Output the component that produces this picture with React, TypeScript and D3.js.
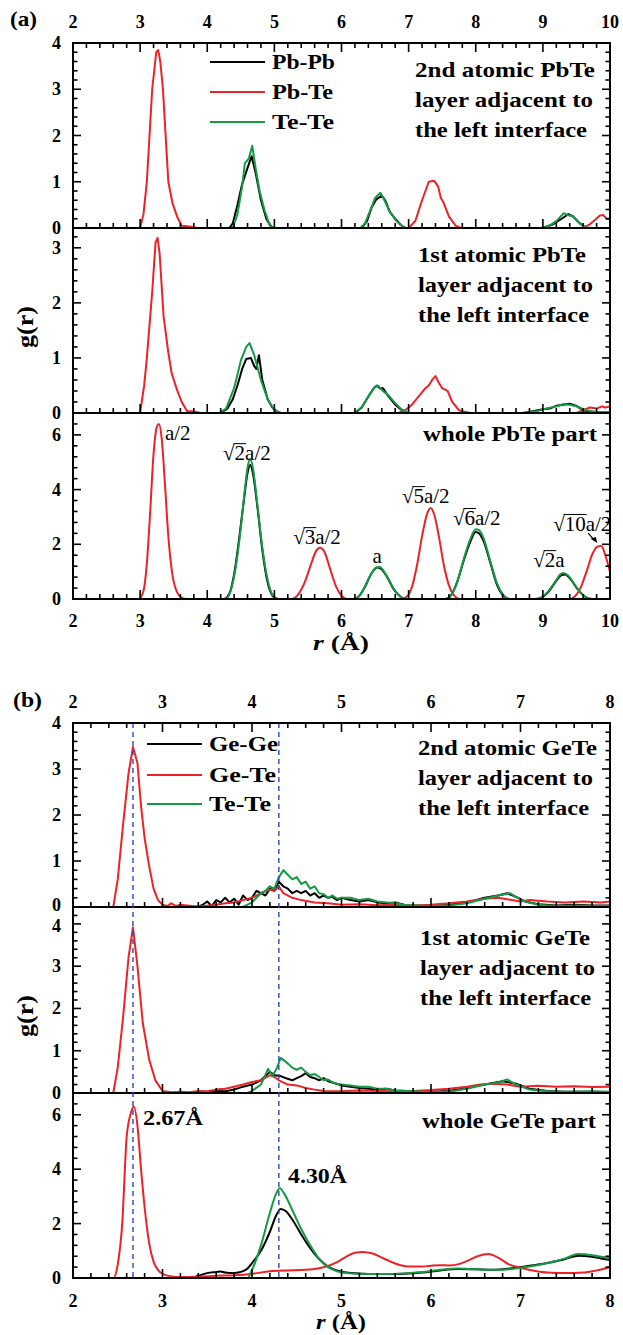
import React from 'react';
import * as d3 from 'd3';

type Pt = [number, number];

// ---------- Panel (a): PbTe, r = 2..10 Å ----------
const rMajorA = [2, 3, 4, 5, 6, 7, 8, 9, 10];

// 2nd atomic PbTe layer adjacent to the left interface
const pbteL2_PbPb: Pt[] = [
  [2, 0], [4.33, 0], [4.38, 0.1], [4.45, 0.5], [4.52, 0.95], [4.6, 1.3], [4.66, 1.55], [4.72, 1.2],
  [4.8, 0.6], [4.88, 0.2], [4.95, 0.03], [5.0, 0], [6.3, 0], [6.38, 0.15], [6.45, 0.45], [6.52, 0.62],
  [6.6, 0.7], [6.65, 0.6], [6.72, 0.35], [6.8, 0.2], [6.88, 0.07], [6.95, 0], [9.0, 0], [9.15, 0.08],
  [9.28, 0.2], [9.38, 0.3], [9.45, 0.25], [9.55, 0.1], [9.65, 0], [10, 0],
];
const pbteL2_PbTe: Pt[] = [
  [2, 0], [3.0, 0], [3.05, 0.3], [3.1, 1.0], [3.18, 3.0], [3.24, 3.8], [3.27, 3.85], [3.3, 3.6],
  [3.34, 3.0], [3.42, 1.0], [3.48, 0.55], [3.55, 0.25], [3.62, 0.05], [3.7, 0.04], [3.78, 0.02],
  [3.85, 0], [7.0, 0], [7.1, 0.15], [7.2, 0.6], [7.3, 1.0], [7.38, 1.02], [7.44, 0.9], [7.48, 0.65],
  [7.52, 0.55], [7.6, 0.25], [7.7, 0.05], [7.78, 0], [9.6, 0], [9.7, 0.08], [9.78, 0.18], [9.85, 0.27],
  [9.9, 0.28], [9.95, 0.2], [10, 0.2],
];
const pbteL2_TeTe: Pt[] = [
  [2, 0], [4.38, 0], [4.45, 0.3], [4.52, 0.9], [4.56, 1.4], [4.62, 1.5], [4.67, 1.78], [4.72, 1.3],
  [4.78, 0.8], [4.85, 0.4], [4.92, 0.1], [4.98, 0], [6.28, 0], [6.35, 0.1], [6.42, 0.35], [6.5, 0.65],
  [6.58, 0.76], [6.64, 0.6], [6.72, 0.35], [6.82, 0.15], [6.92, 0.02], [6.97, 0], [9.0, 0], [9.1, 0.05],
  [9.2, 0.15], [9.31, 0.32], [9.37, 0.28], [9.45, 0.25], [9.55, 0.1], [9.64, 0], [10, 0],
];

// 1st atomic PbTe layer adjacent to the left interface
const pbteL1_PbPb: Pt[] = [
  [2, 0], [4.2, 0], [4.3, 0.08], [4.38, 0.25], [4.45, 0.5], [4.52, 0.8], [4.58, 0.98], [4.65, 1.0],
  [4.7, 0.85], [4.73, 0.8], [4.77, 1.05], [4.82, 0.6], [4.9, 0.25], [4.97, 0.1], [5.05, 0.02], [5.1, 0],
  [6.2, 0], [6.3, 0.1], [6.4, 0.3], [6.48, 0.45], [6.53, 0.5], [6.57, 0.45], [6.62, 0.45], [6.7, 0.3],
  [6.8, 0.15], [6.9, 0.05], [7.0, 0], [8.7, 0], [8.85, 0.03], [9.0, 0.07], [9.1, 0.08], [9.2, 0.13],
  [9.3, 0.15], [9.4, 0.17], [9.5, 0.13], [9.6, 0.05], [9.7, 0.02], [10, 0.02],
];
const pbteL1_PbTe: Pt[] = [
  [2, 0], [3.0, 0], [3.06, 0.5], [3.1, 1.0], [3.18, 2.2], [3.23, 3.1], [3.26, 3.18], [3.29, 2.9],
  [3.35, 1.75], [3.42, 1.1], [3.47, 0.72], [3.55, 0.42], [3.62, 0.2], [3.7, 0.03], [3.8, 0.03],
  [3.9, 0], [6.85, 0], [6.95, 0.05], [7.05, 0.15], [7.15, 0.3], [7.25, 0.45], [7.3, 0.5], [7.35, 0.6],
  [7.4, 0.67], [7.45, 0.55], [7.5, 0.45], [7.58, 0.4], [7.65, 0.2], [7.75, 0.05], [7.85, 0.02],
  [7.92, 0], [9.5, 0], [9.6, 0.05], [9.7, 0.1], [9.8, 0.08], [9.88, 0.12], [9.93, 0.1], [10, 0.12],
];
const pbteL1_TeTe: Pt[] = [
  [2, 0], [4.18, 0], [4.28, 0.08], [4.4, 0.45], [4.5, 0.95], [4.58, 1.2], [4.63, 1.27], [4.7, 1.05],
  [4.8, 0.6], [4.9, 0.25], [5.0, 0.05], [5.08, 0], [6.18, 0], [6.3, 0.1], [6.4, 0.3], [6.5, 0.48],
  [6.55, 0.49], [6.6, 0.42], [6.7, 0.32], [6.8, 0.18], [6.9, 0.06], [7.0, 0], [8.7, 0], [8.9, 0.03],
  [9.05, 0.08], [9.2, 0.12], [9.3, 0.16], [9.4, 0.15], [9.5, 0.12], [9.65, 0.05], [9.8, 0.02], [10, 0.02],
];

// whole PbTe part
const pbteAll_PbPb: Pt[] = [
  [2, 0], [4.25, 0], [4.33, 0.2], [4.4, 0.9], [4.48, 2.3], [4.55, 3.7], [4.6, 4.6], [4.64, 4.9],
  [4.68, 4.6], [4.75, 3.3], [4.82, 1.8], [4.9, 0.6], [4.98, 0.1], [5.05, 0], [6.18, 0], [6.25, 0.08],
  [6.35, 0.45], [6.45, 0.95], [6.53, 1.15], [6.58, 1.12], [6.68, 0.8], [6.78, 0.35], [6.88, 0.08],
  [6.95, 0], [7.55, 0], [7.62, 0.1], [7.72, 0.6], [7.82, 1.4], [7.92, 2.1], [8.0, 2.45], [8.05, 2.4],
  [8.12, 2.1], [8.22, 1.3], [8.32, 0.5], [8.42, 0.1], [8.5, 0], [8.9, 0], [8.98, 0.05], [9.08, 0.25],
  [9.18, 0.6], [9.28, 0.88], [9.33, 0.9], [9.42, 0.7], [9.52, 0.35], [9.62, 0.1], [9.7, 0], [10, 0],
];
const pbteAll_PbTe: Pt[] = [
  [2, 0], [2.98, 0], [3.05, 0.3], [3.1, 1.3], [3.15, 3.2], [3.2, 5.3], [3.25, 6.3], [3.28, 6.4],
  [3.32, 5.9], [3.37, 4.2], [3.42, 2.3], [3.48, 0.9], [3.55, 0.25], [3.62, 0.05], [3.7, 0], [5.25, 0],
  [5.35, 0.15], [5.45, 0.6], [5.55, 1.3], [5.62, 1.75], [5.68, 1.87], [5.75, 1.7], [5.83, 1.1],
  [5.92, 0.45], [6.0, 0.12], [6.08, 0], [6.9, 0], [6.98, 0.1], [7.05, 0.45], [7.13, 1.3], [7.2, 2.3],
  [7.28, 3.15], [7.33, 3.33], [7.38, 3.1], [7.45, 2.3], [7.52, 1.3], [7.6, 0.5], [7.68, 0.12],
  [7.76, 0], [9.4, 0], [9.48, 0.1], [9.56, 0.4], [9.65, 1.0], [9.73, 1.6], [9.8, 1.9], [9.87, 1.95],
  [9.93, 1.6], [10, 1.0],
];
const pbteAll_TeTe: Pt[] = [
  [2, 0], [4.27, 0], [4.35, 0.3], [4.42, 1.1], [4.5, 2.6], [4.56, 4.0], [4.6, 4.8], [4.64, 5.1],
  [4.68, 4.8], [4.74, 3.6], [4.82, 1.9], [4.9, 0.7], [4.98, 0.12], [5.06, 0], [6.18, 0], [6.25, 0.08],
  [6.35, 0.45], [6.45, 0.95], [6.53, 1.15], [6.57, 1.17], [6.66, 0.9], [6.76, 0.45], [6.86, 0.12],
  [6.95, 0], [7.55, 0], [7.62, 0.1], [7.72, 0.6], [7.82, 1.45], [7.92, 2.2], [8.0, 2.55], [8.05, 2.52],
  [8.12, 2.2], [8.22, 1.35], [8.32, 0.55], [8.42, 0.12], [8.5, 0], [8.88, 0], [8.98, 0.07],
  [9.08, 0.28], [9.18, 0.62], [9.26, 0.9], [9.3, 0.95], [9.38, 0.85], [9.48, 0.5], [9.58, 0.18],
  [9.68, 0.03], [9.75, 0], [10, 0],
];

// ---------- Panel (b): GeTe, r = 2..8 Å ----------
const rMajorB = [2, 3, 4, 5, 6, 7, 8];
const bondLengths = [2.67, 4.3];

// 2nd atomic GeTe layer adjacent to the left interface
const geteL2_GeGe: Pt[] = [
  [2, 0], [3.4, 0], [3.45, 0.05], [3.5, 0.12], [3.55, 0.02], [3.6, 0.15], [3.65, 0.1], [3.7, 0.2],
  [3.75, 0.1], [3.8, 0.18], [3.85, 0.05], [3.9, 0.25], [3.95, 0.15], [4.0, 0.2], [4.05, 0.35],
  [4.1, 0.3], [4.15, 0.25], [4.2, 0.4], [4.25, 0.35], [4.3, 0.55], [4.35, 0.45], [4.4, 0.4],
  [4.45, 0.3], [4.5, 0.35], [4.55, 0.3], [4.6, 0.35], [4.65, 0.25], [4.7, 0.3], [4.75, 0.2],
  [4.8, 0.25], [4.85, 0.2], [4.9, 0.22], [4.95, 0.15], [5.0, 0.2], [5.1, 0.15], [5.2, 0.12],
  [5.3, 0.15], [5.4, 0.1], [5.5, 0.08], [5.6, 0.1], [5.7, 0.05], [5.8, 0.03], [6.0, 0.02], [6.2, 0.05],
  [6.4, 0.1], [6.6, 0.2], [6.75, 0.25], [6.85, 0.3], [6.95, 0.22], [7.05, 0.12], [7.2, 0.06],
  [7.4, 0.03], [7.6, 0.05], [7.8, 0.03], [8.0, 0.03],
];
const geteL2_GeTe: Pt[] = [
  [2, 0], [2.45, 0], [2.5, 0.6], [2.56, 1.8], [2.62, 2.9], [2.67, 3.48], [2.72, 3.13], [2.76, 2.2],
  [2.8, 1.5], [2.85, 0.9], [2.9, 0.4], [2.95, 0.15], [3.0, 0.05], [3.05, 0.02], [3.1, 0.08],
  [3.15, 0.02], [3.2, 0.05], [3.3, 0.03], [3.4, 0.01], [3.5, 0.03], [3.6, 0.05], [3.7, 0.08],
  [3.8, 0.1], [3.9, 0.15], [4.0, 0.2], [4.1, 0.3], [4.2, 0.38], [4.25, 0.35], [4.3, 0.45], [4.35, 0.3],
  [4.45, 0.2], [4.55, 0.15], [4.7, 0.1], [4.85, 0.08], [5.0, 0.05], [5.2, 0.06], [5.4, 0.04],
  [5.6, 0.05], [5.8, 0.03], [6.0, 0.05], [6.2, 0.08], [6.4, 0.12], [6.6, 0.18], [6.75, 0.2],
  [6.9, 0.15], [7.0, 0.12], [7.1, 0.15], [7.3, 0.12], [7.5, 0.1], [7.7, 0.12], [7.9, 0.1], [8.0, 0.12],
];
const geteL2_TeTe: Pt[] = [
  [2, 0], [3.9, 0], [3.95, 0.05], [4.0, 0.1], [4.05, 0.2], [4.1, 0.3], [4.15, 0.35], [4.2, 0.45],
  [4.25, 0.4], [4.3, 0.65], [4.35, 0.8], [4.4, 0.7], [4.45, 0.6], [4.5, 0.65], [4.55, 0.5],
  [4.6, 0.55], [4.65, 0.4], [4.7, 0.45], [4.75, 0.3], [4.8, 0.28], [4.85, 0.2], [4.9, 0.25],
  [4.95, 0.18], [5.0, 0.2], [5.1, 0.2], [5.2, 0.15], [5.3, 0.18], [5.4, 0.12], [5.5, 0.1], [5.6, 0.08],
  [5.7, 0.05], [5.8, 0.03], [6.0, 0.02], [6.2, 0.03], [6.4, 0.08], [6.6, 0.18], [6.75, 0.25],
  [6.88, 0.3], [6.95, 0.22], [7.05, 0.12], [7.2, 0.05], [7.4, 0.02], [7.6, 0.03], [7.8, 0.02], [8.0, 0.02],
];

// 1st atomic GeTe layer adjacent to the left interface
const geteL1_GeGe: Pt[] = [
  [2, 0], [3.5, 0], [3.55, 0.03], [3.6, 0.05], [3.7, 0.04], [3.8, 0.08], [3.9, 0.15], [4.0, 0.2],
  [4.1, 0.3], [4.2, 0.5], [4.25, 0.42], [4.32, 0.4], [4.38, 0.35], [4.45, 0.3], [4.5, 0.35],
  [4.55, 0.4], [4.6, 0.47], [4.65, 0.38], [4.7, 0.35], [4.75, 0.3], [4.8, 0.35], [4.85, 0.28],
  [4.9, 0.25], [5.0, 0.18], [5.1, 0.15], [5.2, 0.12], [5.3, 0.1], [5.4, 0.08], [5.5, 0.1], [5.6, 0.06],
  [5.8, 0.04], [6.0, 0.03], [6.2, 0.05], [6.4, 0.12], [6.6, 0.2], [6.8, 0.28], [6.95, 0.22], [7.1, 0.1],
  [7.3, 0.05], [7.5, 0.03], [7.8, 0.03], [8.0, 0.02],
];
const geteL1_GeTe: Pt[] = [
  [2, 0], [2.45, 0], [2.5, 0.6], [2.56, 1.8], [2.62, 3.2], [2.67, 3.92], [2.72, 3.0], [2.78, 1.65],
  [2.85, 0.8], [2.92, 0.3], [3.0, 0.05], [3.1, 0.02], [3.2, 0.03], [3.3, 0.02], [3.4, 0.05], [3.5, 0.04],
  [3.6, 0.08], [3.7, 0.1], [3.8, 0.15], [3.9, 0.2], [4.0, 0.26], [4.1, 0.3], [4.2, 0.42], [4.25, 0.38],
  [4.3, 0.3], [4.4, 0.2], [4.5, 0.18], [4.6, 0.12], [4.7, 0.08], [4.8, 0.05], [5.0, 0.04], [5.2, 0.06],
  [5.4, 0.05], [5.6, 0.04], [5.8, 0.05], [6.0, 0.07], [6.2, 0.1], [6.4, 0.15], [6.55, 0.2], [6.7, 0.22],
  [6.85, 0.2], [7.0, 0.15], [7.2, 0.17], [7.4, 0.15], [7.6, 0.16], [7.8, 0.14], [8.0, 0.15],
];
const geteL1_TeTe: Pt[] = [
  [2, 0], [3.95, 0], [4.0, 0.05], [4.1, 0.2], [4.18, 0.57], [4.23, 0.4], [4.28, 0.6], [4.32, 0.83],
  [4.4, 0.7], [4.45, 0.6], [4.5, 0.55], [4.55, 0.6], [4.6, 0.5], [4.65, 0.42], [4.7, 0.45],
  [4.75, 0.38], [4.8, 0.3], [4.85, 0.32], [4.9, 0.25], [4.95, 0.22], [5.0, 0.2], [5.1, 0.18],
  [5.2, 0.15], [5.3, 0.15], [5.4, 0.1], [5.5, 0.1], [5.6, 0.06], [5.8, 0.04], [6.0, 0.02], [6.2, 0.03],
  [6.4, 0.1], [6.6, 0.2], [6.75, 0.25], [6.85, 0.32], [6.95, 0.2], [7.1, 0.08], [7.3, 0.04],
  [7.5, 0.03], [7.8, 0.04], [8.0, 0.03],
];

// whole GeTe part
const geteAll_GeGe: Pt[] = [
  [2, 0], [3.3, 0], [3.4, 0.08], [3.5, 0.18], [3.6, 0.22], [3.65, 0.24], [3.7, 0.2], [3.8, 0.18],
  [3.9, 0.25], [3.95, 0.35], [4.0, 0.55], [4.1, 1.0], [4.2, 1.7], [4.27, 2.3], [4.32, 2.54],
  [4.38, 2.45], [4.45, 2.15], [4.55, 1.6], [4.65, 1.1], [4.75, 0.7], [4.85, 0.42], [4.95, 0.28],
  [5.1, 0.18], [5.3, 0.15], [5.5, 0.15], [5.7, 0.16], [5.9, 0.2], [6.1, 0.28], [6.3, 0.33], [6.5, 0.32],
  [6.7, 0.3], [6.9, 0.36], [7.1, 0.45], [7.3, 0.55], [7.5, 0.7], [7.65, 0.82], [7.8, 0.78],
  [7.9, 0.72], [8.0, 0.66],
];
const geteAll_GeTe: Pt[] = [
  [2, 0], [2.45, 0], [2.5, 0.5], [2.55, 2.0], [2.6, 5.2], [2.65, 6.1], [2.68, 6.3], [2.72, 5.6],
  [2.76, 4.0], [2.8, 2.6], [2.85, 1.3], [2.9, 0.6], [2.95, 0.3], [3.0, 0.15], [3.1, 0.06], [3.2, 0.04],
  [3.4, 0.05], [3.6, 0.08], [3.8, 0.1], [4.0, 0.15], [4.2, 0.25], [4.4, 0.28], [4.6, 0.3], [4.75, 0.36],
  [4.85, 0.44], [4.95, 0.58], [5.05, 0.78], [5.15, 0.93], [5.24, 0.96], [5.35, 0.9], [5.45, 0.75],
  [5.55, 0.6], [5.65, 0.48], [5.76, 0.42], [5.9, 0.42], [6.0, 0.45], [6.1, 0.47], [6.2, 0.46],
  [6.32, 0.52], [6.42, 0.65], [6.52, 0.8], [6.64, 0.88], [6.75, 0.75], [6.87, 0.5], [7.0, 0.38],
  [7.15, 0.27], [7.3, 0.2], [7.5, 0.18], [7.7, 0.2], [7.85, 0.28], [8.0, 0.4],
];
const geteAll_TeTe: Pt[] = [
  [2, 0], [3.95, 0], [4.0, 0.3], [4.1, 1.2], [4.2, 2.4], [4.27, 3.1], [4.31, 3.3], [4.36, 3.1],
  [4.45, 2.5], [4.55, 1.8], [4.65, 1.2], [4.75, 0.7], [4.85, 0.4], [4.95, 0.25], [5.1, 0.17],
  [5.3, 0.15], [5.5, 0.15], [5.7, 0.17], [5.9, 0.22], [6.1, 0.3], [6.3, 0.35], [6.5, 0.32], [6.7, 0.3],
  [6.9, 0.33], [7.1, 0.42], [7.3, 0.55], [7.5, 0.72], [7.64, 0.88], [7.8, 0.84], [7.9, 0.78], [8.0, 0.73],
];

// ---------- drawing ----------
const FONT = "'Liberation Serif', 'Times New Roman', Tinos, serif";
const RED = '#ee2226';
const GREEN = '#139a44';
const BLACK = '#000000';
const DASH_BLUE = '#2b48b8';

interface Series { data: Pt[]; color: string }
interface Sub {
  top: number;
  bottom: number;
  yMax: number;
  yMajor: number[];
  yMinorStep: number;
  series: Series[];
  smooth: boolean;
  // vertical offsets (px) for crowded tick labels at sub-panel joins
  labelShift?: Record<number, number>;
}

function FitText(props: {
  x: number; y: number; w?: number; size: number; text?: string; bold?: boolean;
  anchor?: 'start' | 'middle' | 'end'; children?: React.ReactNode;
}) {
  const { x, y, w, size, bold = true, anchor = 'start' } = props;
  return (
    <text
      x={x}
      y={y}
      style={{ fontFamily: FONT, fontSize: size, fontWeight: bold ? 700 : 400 }}
      textAnchor={anchor}
      textLength={w}
      lengthAdjust={w ? 'spacingAndGlyphs' : undefined}
      fill="#000"
    >
      {props.children ?? props.text}
    </text>
  );
}

function Panel(props: {
  xDomain: [number, number];
  left: number;
  right: number;
  subs: Sub[];
  xMajor: number[];
  topLabelY: number;
  bottomLabelY: number;
  overlay?: (x: d3.ScaleLinear<number, number>, ys: d3.ScaleLinear<number, number>[]) => React.ReactNode;
}) {
  const { xDomain, left, right, subs, xMajor, topLabelY, bottomLabelY } = props;
  const x = d3.scaleLinear().domain(xDomain).range([left, right]);
  const xMinor = d3.range(Math.round((xDomain[1] - xDomain[0]) / 0.2) + 1).map((i) => +(xDomain[0] + i * 0.2).toFixed(2));
  const isMajorX = (v: number) => Math.abs(v - Math.round(v)) < 1e-6;
  const ys = subs.map((s) => d3.scaleLinear().domain([0, s.yMax]).range([s.bottom, s.top]));
  const top = subs[0].top;
  const bottom = subs[subs.length - 1].bottom;
  const tickFont = { fontFamily: FONT, fontSize: 18, fontWeight: 700 };

  return (
    <g>
      {subs.map((s, i) => {
        const y = ys[i];
        const line = d3
          .line<Pt>()
          .x((d) => x(d[0]))
          .y((d) => y(d[1]))
          .curve(s.smooth ? d3.curveMonotoneX : d3.curveLinear);
        const nMinor = Math.floor(s.yMax / s.yMinorStep + 1e-6);
        const yMinor = d3.range(nMinor + 1).map((k) => +(k * s.yMinorStep).toFixed(2));
        const isMajorY = (v: number) => s.yMajor.some((m) => Math.abs(m - v) < 1e-6);
        const clipId = `clip-${left}-${s.top}`;
        return (
          <g key={i}>
            <clipPath id={clipId}>
              <rect x={left} y={s.top} width={right - left} height={s.bottom - s.top + 1} />
            </clipPath>
            <g clipPath={`url(#${clipId})`}>
              {s.series.map((ser, j) => (
                <path key={j} d={line(ser.data) ?? ''} fill="none" stroke={ser.color} strokeWidth={2} strokeLinejoin="round" />
              ))}
            </g>
            {/* bottom x ticks, pointing up */}
            {xMinor.map((v) => (
              <line key={`bx${v}`} x1={x(v)} x2={x(v)} y1={s.bottom} y2={s.bottom - (isMajorX(v) ? 9 : 5)} stroke="#000" strokeWidth={1.6} />
            ))}
            {/* y ticks on both sides */}
            {yMinor.map((v) => (
              <g key={`y${v}`}>
                <line x1={left} x2={left + (isMajorY(v) ? 8 : 4.5)} y1={y(v)} y2={y(v)} stroke="#000" strokeWidth={1.6} />
                <line x1={right} x2={right - (isMajorY(v) ? 8 : 4.5)} y1={y(v)} y2={y(v)} stroke="#000" strokeWidth={1.6} />
              </g>
            ))}
            {s.yMajor.map((v) => (
              <text key={`yl${v}`} x={61} y={y(v) + 6 + (s.labelShift?.[v] ?? 0)} style={tickFont} textAnchor="end">
                {v}
              </text>
            ))}
            <line x1={left} x2={right} y1={s.bottom} y2={s.bottom} stroke="#000" strokeWidth={2} />
          </g>
        );
      })}
      {/* top x ticks, pointing down */}
      {xMinor.map((v) => (
        <line key={`tx${v}`} x1={x(v)} x2={x(v)} y1={top} y2={top + (isMajorX(v) ? 9 : 5)} stroke="#000" strokeWidth={1.6} />
      ))}
      {xMajor.map((v) => (
        <g key={`xl${v}`}>
          <text x={x(v)} y={topLabelY} style={tickFont} textAnchor="middle">{v}</text>
          <text x={x(v)} y={bottomLabelY} style={tickFont} textAnchor="middle">{v}</text>
        </g>
      ))}
      {props.overlay ? props.overlay(x, ys) : null}
      <rect x={left} y={top} width={right - left} height={bottom - top} fill="none" stroke="#000" strokeWidth={2} />
    </g>
  );
}

function Legend(props: { x: number; ys: number[]; labels: string[]; colors: string[]; widths: number[] }) {
  return (
    <g>
      {props.labels.map((lab, i) => (
        <g key={lab}>
          <line x1={props.x} x2={props.x + 55} y1={props.ys[i]} y2={props.ys[i]} stroke={props.colors[i]} strokeWidth={2} />
          <FitText x={props.x + 62} y={props.ys[i] + 7} size={21} w={props.widths[i]} text={lab} />
        </g>
      ))}
    </g>
  );
}

// A peak label like "√2a/2": radical sign, overbarred radicand, then the rest
function Rooted(props: { x: number; y: number; root?: string; rest: string }) {
  const { x, y, root, rest } = props;
  const size = 21;
  const radW = root ? size * 0.55 : 0;
  const rootW = root ? size * 0.5 * root.length : 0;
  return (
    <g>
      {root ? (
        <>
          <text x={x} y={y} style={{ fontFamily: FONT, fontSize: size }}>√</text>
          <line x1={x + radW - 1} x2={x + radW + rootW + 1} y1={y - size * 0.78} y2={y - size * 0.78} stroke="#000" strokeWidth={1} />
          <text x={x + radW} y={y} style={{ fontFamily: FONT, fontSize: size }}>{root}</text>
        </>
      ) : null}
      <text x={x + radW + rootW} y={y} style={{ fontFamily: FONT, fontSize: size }}>{rest}</text>
    </g>
  );
}

export default function App() {
  const subsA: Sub[] = [
    {
      top: 43, bottom: 228, yMax: 4, yMajor: [0, 1, 2, 3, 4], yMinorStep: 0.2, smooth: false,
      series: [
        { data: pbteL2_PbPb, color: BLACK },
        { data: pbteL2_PbTe, color: RED },
        { data: pbteL2_TeTe, color: GREEN },
      ],
    },
    {
      top: 228, bottom: 413, yMax: 3.36, yMajor: [0, 1, 2, 3], yMinorStep: 0.2, smooth: false,
      series: [
        { data: pbteL1_PbPb, color: BLACK },
        { data: pbteL1_PbTe, color: RED },
        { data: pbteL1_TeTe, color: GREEN },
      ],
    },
    {
      top: 413, bottom: 599, yMax: 6.8, yMajor: [0, 2, 4, 6], yMinorStep: 0.4, smooth: true,
      series: [
        { data: pbteAll_PbPb, color: BLACK },
        { data: pbteAll_PbTe, color: RED },
        { data: pbteAll_TeTe, color: GREEN },
      ],
    },
  ];

  const subsB: Sub[] = [
    {
      top: 723, bottom: 907, yMax: 4, yMajor: [0, 1, 2, 3, 4], yMinorStep: 0.2, smooth: false,
      labelShift: { 0: -2.5 },
      series: [
        { data: geteL2_GeGe, color: BLACK },
        { data: geteL2_GeTe, color: RED },
        { data: geteL2_TeTe, color: GREEN },
      ],
    },
    {
      top: 907, bottom: 1093, yMax: 4.4, yMajor: [0, 1, 2, 3, 4], yMinorStep: 0.2, smooth: false,
      labelShift: { 4: 2.5 },
      series: [
        { data: geteL1_GeGe, color: BLACK },
        { data: geteL1_GeTe, color: RED },
        { data: geteL1_TeTe, color: GREEN },
      ],
    },
    {
      top: 1093, bottom: 1278, yMax: 6.8, yMajor: [0, 2, 4, 6], yMinorStep: 0.4, smooth: true,
      series: [
        { data: geteAll_GeGe, color: BLACK },
        { data: geteAll_GeTe, color: RED },
        { data: geteAll_TeTe, color: GREEN },
      ],
    },
  ];

  const axisTitle = { fontFamily: FONT, fontSize: 21, fontWeight: 700 };

  return (
    <svg
      width={623}
      height={1335}
      viewBox="0 0 623 1335"
      style={{ position: 'absolute', left: 0, top: 0, display: 'block', background: '#fff', fontFamily: FONT }}
    >
      <rect width={623} height={1335} fill="#fff" />

      {/* ---------- (a) PbTe ---------- */}
      <Panel
        xDomain={[2, 10]}
        left={73}
        right={610}
        subs={subsA}
        xMajor={rMajorA}
        topLabelY={28}
        bottomLabelY={627}
        overlay={(x, ys) => {
          const y = ys[2];
          return (
            <g>
              <Rooted x={x(3.37)} y={y(5.81)} rest="a/2" />
              <Rooted x={x(4.235)} y={y(5.08)} root="2" rest="a/2" />
              <Rooted x={x(5.28)} y={y(2.01)} root="3" rest="a/2" />
              <text x={x(6.53)} y={y(1.32)} style={{ fontFamily: FONT, fontSize: 21 }} textAnchor="middle">a</text>
              <Rooted x={x(6.9)} y={y(3.51)} root="5" rest="a/2" />
              <Rooted x={x(7.66)} y={y(2.71)} root="6" rest="a/2" />
              <Rooted x={x(8.855)} y={y(1.17)} root="2" rest="a" />
              <Rooted x={x(9.153)} y={y(2.49)} root="10" rest="a/2" />
              <line x1={x(9.675)} y1={y(2.41)} x2={x(9.76)} y2={y(2.17)} stroke="#000" strokeWidth={1.2} />
              <path
                d={`M${x(9.81)},${y(2.05)} L${x(9.71)},${y(2.2)} L${x(9.79)},${y(2.27)} Z`}
                fill="#000"
              />
            </g>
          );
        }}
      />
      <FitText x={10} y={26} size={21} w={27} text="(a)" />
      <Legend
        x={210}
        ys={[62, 92, 122]}
        labels={['Pb-Pb', 'Pb-Te', 'Te-Te']}
        colors={[BLACK, RED, GREEN]}
        widths={[63, 61, 62]}
      />
      <FitText x={415} y={77} size={21} w={180} text="2nd atomic PbTe" />
      <FitText x={415} y={107} size={21} w={178} text="layer adjacent to" />
      <FitText x={415} y={137} size={21} w={172} text="the left interface" />
      <FitText x={418} y={262} size={21} w={168} text="1st atomic PbTe" />
      <FitText x={418} y={292} size={21} w={175} text="layer adjacent to" />
      <FitText x={418} y={322} size={21} w={171} text="the left interface" />
      <FitText x={423} y={441} size={21} w={174} text="whole PbTe part" />
      <g transform="translate(33,327) rotate(-90)">
        <FitText x={0} y={0} size={23} w={42} anchor="middle" text="g(r)" />
      </g>
      <text x={341} y={650} style={axisTitle} textAnchor="middle" textLength={56} lengthAdjust="spacingAndGlyphs">
        <tspan fontStyle="italic">r</tspan> (Å)
      </text>

      {/* ---------- (b) GeTe ---------- */}
      <Panel
        xDomain={[2, 8]}
        left={73}
        right={610}
        subs={subsB}
        xMajor={rMajorB}
        topLabelY={708}
        bottomLabelY={1307}
        overlay={(x) => (
          <g>
            {bondLengths.map((r) => (
              <line key={r} x1={x(r)} x2={x(r)} y1={723} y2={1278} stroke={DASH_BLUE} strokeWidth={1.4} strokeDasharray="5,4" />
            ))}
          </g>
        )}
      />
      <FitText x={13} y={707} size={21} w={29} text="(b)" />
      <Legend
        x={147}
        ys={[744, 775, 804]}
        labels={['Ge-Ge', 'Ge-Te', 'Te-Te']}
        colors={[BLACK, RED, GREEN]}
        widths={[69, 67, 62]}
      />
      <FitText x={418} y={755} size={21} w={179} text="2nd atomic GeTe" />
      <FitText x={418} y={785} size={21} w={175} text="layer adjacent to" />
      <FitText x={418} y={815} size={21} w={171} text="the left interface" />
      <FitText x={420} y={945} size={21} w={170} text="1st atomic GeTe" />
      <FitText x={420} y={975} size={21} w={175} text="layer adjacent to" />
      <FitText x={420} y={1005} size={21} w={171} text="the left interface" />
      <FitText x={422} y={1128} size={21} w={174} text="whole GeTe part" />
      <FitText x={143} y={1125} size={22} w={60} text="2.67Å" />
      <FitText x={288} y={1183} size={22} w={59} text="4.30Å" />
      <g transform="translate(33,1016) rotate(-90)">
        <FitText x={0} y={0} size={23} w={42} anchor="middle" text="g(r)" />
      </g>
      <text x={341} y={1329} style={axisTitle} textAnchor="middle" textLength={50} lengthAdjust="spacingAndGlyphs">
        <tspan fontStyle="italic">r</tspan> (Å)
      </text>
    </svg>
  );
}
